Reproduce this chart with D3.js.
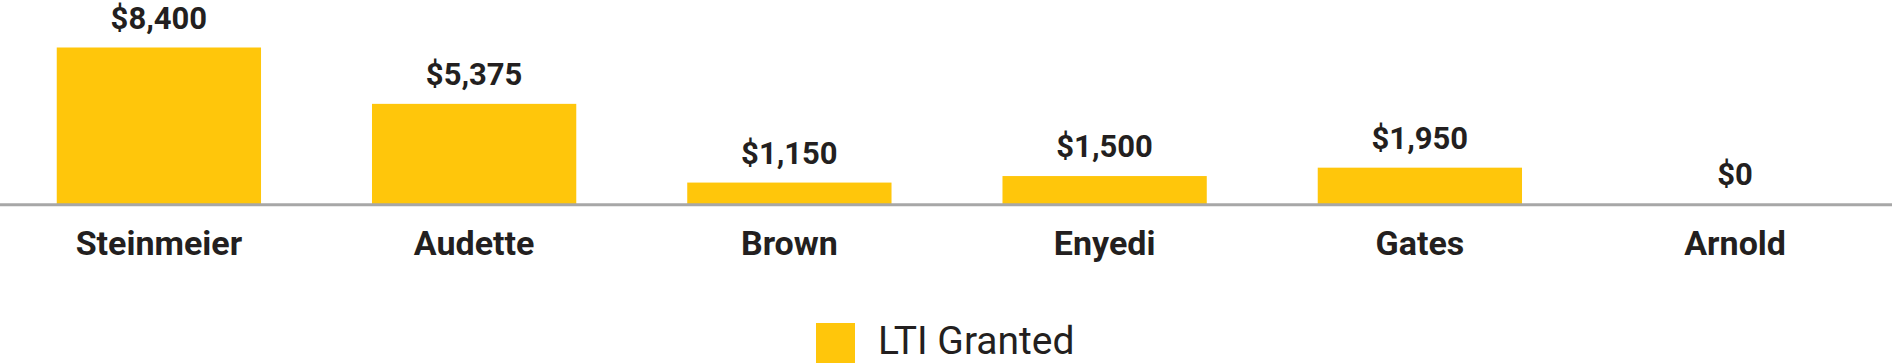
<!DOCTYPE html>
<meta charset="utf-8">
<script src="https://cdn.jsdelivr.net/npm/d3@7"></script>
<style>
	body { margin: 0; background: #ffffff; }
	svg { display: block; }
	.value { font-family: Roboto, sans-serif; font-weight: 700; font-size: 31px; fill: #231f20; }
	.cat { font-family: Roboto, sans-serif; font-weight: 700; font-size: 34px; fill: #231f20; }
	.legend-text { font-family: Roboto, sans-serif; font-weight: 400; font-size: 39px; fill: #231f20; }
</style>
<svg></svg>
<script>
	var names = ["Steinmeier", "Audette", "Brown", "Enyedi", "Gates", "Arnold"];
	var ltiGranted = [8400, 5375, 1150, 1500, 1950, 0];
	var seriesName = "LTI Granted";

	var size = { wt: 1892, ht: 363 };
	var baseY = 204;
	var topY = 47.5;
	var barColor = "#ffc60b";

	var svg = d3.select("svg")
		.attr("width", size.wt)
		.attr("height", size.ht);

	var data = names.map(function (n, i) { return { name: n, value: ltiGranted[i] }; });

	var xScale = d3.scaleBand()
		.domain(names)
		.range([0, 1894])
		.paddingInner(0.352)
		.paddingOuter(0.18);

	var yScale = d3.scaleLinear()
		.domain([0, d3.max(ltiGranted)])
		.range([baseY, topY]);

	// bars
	svg.append("g").selectAll("rect").data(data)
		.enter()
		.append("rect")
		.attr("x", function (d) { return xScale(d.name); })
		.attr("y", function (d) { return yScale(d.value); })
		.attr("width", xScale.bandwidth())
		.attr("height", function (d) { return baseY - yScale(d.value) + 1; })
		.style("fill", barColor);

	// baseline
	svg.append("line")
		.attr("x1", 0).attr("x2", size.wt)
		.attr("y1", baseY + 0.8).attr("y2", baseY + 0.8)
		.style("stroke", "#a7a7a7")
		.style("stroke-width", 3);

	// value labels
	var fmt = d3.format(",d");
	svg.append("g").selectAll("text").data(data)
		.enter()
		.append("text")
		.attr("class", "value")
		.attr("x", function (d) { return xScale(d.name) + xScale.bandwidth() / 2; })
		.attr("y", function (d) { return yScale(d.value) - 19; })
		.attr("text-anchor", "middle")
		.text(function (d) { return "$" + fmt(d.value); });

	// category labels
	var xAxis = d3.axisBottom(xScale).tickSize(0).tickPadding(0);
	var ax = svg.append("g").attr("transform", "translate(0," + 255 + ")").call(xAxis);
	ax.select(".domain").remove();
	ax.selectAll("text")
		.attr("class", "cat")
		.attr("dy", 0)
		.attr("y", 0)
		.attr("fill", null);

	// legend
	var legend = svg.append("g").attr("transform", "translate(816,323)");
	legend.append("rect")
		.attr("width", 39).attr("height", 40)
		.style("fill", barColor);
	legend.append("text")
		.attr("class", "legend-text")
		.attr("x", 62).attr("y", 31)
		.text(seriesName);
</script>
